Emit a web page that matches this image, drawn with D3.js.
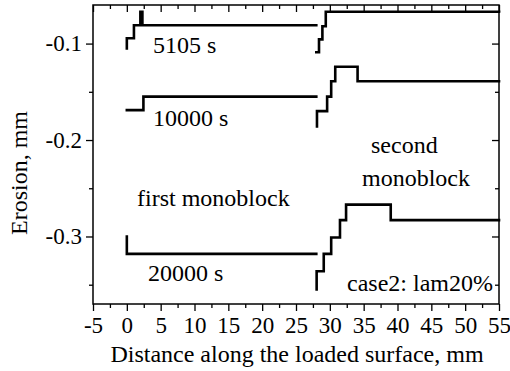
<!DOCTYPE html>
<html>
<head>
<meta charset="utf-8">
<script src="https://cdn.jsdelivr.net/npm/d3@7"></script>
<style>
  html, body { margin: 0; padding: 0; background: #fff; }
  svg { display: block; }
  svg text { font-family: 'Liberation Serif', 'DejaVu Serif', serif; fill: #000; }
</style>
</head>
<body>
<svg id="chart" width="510" height="371"></svg>
<script>
// Axis ranges and ticks
const xDomain = [-5, 55];
const yDomain = [-0.37, -0.06];
const xMajorTicks = [-5, 0, 5, 10, 15, 20, 25, 30, 35, 40, 45, 50, 55];
const xMinorTicks = [-2.5, 2.5, 7.5, 12.5, 17.5, 22.5, 27.5, 32.5, 37.5, 42.5, 47.5, 52.5];
const yMajorTicks = [-0.1, -0.2, -0.3];
const yMinorTicks = [-0.15, -0.25, -0.35];

// Erosion profiles (mm) along the loaded surface, one path per monoblock
const x5105First  = [0, 0, 1.05, 2.0, 2.3, 28];
const y5105First  = [-0.105, -0.0945, -0.081, -0.067, -0.081, -0.081];
const x5105Second = [28, 28.4, 28.9, 29.4, 55];
const y5105Second = [-0.109, -0.0956, -0.082, -0.067, -0.067];

const x10000First  = [0, 2.45, 28];
const y10000First  = [-0.169, -0.155, -0.155];
const x10000Second = [28.1, 28.1, 29.6, 30.2, 30.8, 34.1, 55];
const y10000Second = [-0.186, -0.170, -0.155, -0.139, -0.124, -0.139, -0.139];

const x20000First  = [0, 0, 28];
const y20000First  = [-0.300, -0.318, -0.318];
const x20000Second = [28.05, 28.05, 29.1, 30.2, 31.5, 32.4, 39, 55];
const y20000Second = [-0.355, -0.336, -0.318, -0.301, -0.283, -0.267, -0.283, -0.283];

const profiles = [
  [x5105First, y5105First], [x5105Second, y5105Second],
  [x10000First, y10000First], [x10000Second, y10000Second],
  [x20000First, y20000First], [x20000Second, y20000Second]
];

const svg = d3.select("#chart");
const plotLeft = 93, plotRight = 499, plotTop = 5, plotBottom = 304;
const serif = "'Liberation Serif', 'DejaVu Serif', serif";

const x = d3.scaleLinear().domain(xDomain).range([plotLeft, plotRight]);
const y = d3.scaleLinear().domain(yDomain).range([plotBottom, plotTop]);

// Profiles
const line = d3.line()
  .x(d => x(d[0]))
  .y(d => y(d[1]))
  .curve(d3.curveStepAfter);

profiles.forEach(([xs, ys]) => {
  svg.append("path")
    .datum(xs.map((v, i) => [v, ys[i]]))
    .attr("fill", "none")
    .attr("stroke", "#000")
    .attr("stroke-width", 2.6)
    .attr("stroke-linejoin", "miter")
    .attr("stroke-linecap", "square")
    .attr("d", line);
});

// Axes: bottom/left ticks point out, top/right mirrored ticks point in
const fmtY = d => d3.format(".1f")(d).replace("\u2212", "-");
const axisBottom = d3.axisBottom(x).tickValues(xMajorTicks).tickSize(7).tickPadding(6).tickFormat(d => String(d));
const axisBottomMinor = d3.axisBottom(x).tickValues(xMinorTicks).tickSize(4).tickFormat("");
const axisTop = d3.axisBottom(x).tickValues(xMajorTicks).tickSize(7).tickFormat("");
const axisTopMinor = d3.axisBottom(x).tickValues(xMinorTicks).tickSize(4).tickFormat("");
const axisLeft = d3.axisLeft(y).tickValues(yMajorTicks).tickSize(7).tickPadding(4).tickFormat(fmtY);
const axisLeftMinor = d3.axisLeft(y).tickValues(yMinorTicks).tickSize(4).tickFormat("");
const axisRight = d3.axisLeft(y).tickValues(yMajorTicks).tickSize(7).tickFormat("");
const axisRightMinor = d3.axisLeft(y).tickValues(yMinorTicks).tickSize(4).tickFormat("");

function place(axis, tx, ty) {
  const g = svg.append("g").attr("transform", `translate(${tx},${ty})`).call(axis)
    .attr("font-family", serif).attr("font-size", 23);
  g.select(".domain").remove();
  g.selectAll(".tick line").attr("stroke", "#000").attr("stroke-width", 1.3);
  g.selectAll(".tick text").attr("fill", "#000");
  return g;
}
place(axisBottom, 0, plotBottom);
place(axisBottomMinor, 0, plotBottom);
place(axisTop, 0, plotTop);
place(axisTopMinor, 0, plotTop);
place(axisLeft, plotLeft, 0);
place(axisLeftMinor, plotLeft, 0);
place(axisRight, plotRight, 0);
place(axisRightMinor, plotRight, 0);

// Frame
svg.append("rect")
  .attr("x", plotLeft).attr("y", plotTop)
  .attr("width", plotRight - plotLeft).attr("height", plotBottom - plotTop)
  .attr("fill", "none").attr("stroke", "#000").attr("stroke-width", 1.5);

// Axis titles
svg.append("text")
  .attr("x", 297).attr("y", 362)
  .attr("text-anchor", "middle").attr("font-size", 24)
  .text("Distance along the loaded surface, mm");
svg.append("text")
  .attr("transform", "translate(27,173) rotate(-90)")
  .attr("text-anchor", "middle").attr("font-size", 24)
  .text("Erosion, mm");

// Annotations
const notes = [
  { t: "5105 s", x: 153, y: 53 },
  { t: "10000 s", x: 153, y: 126 },
  { t: "first monoblock", x: 137, y: 206 },
  { t: "second", x: 371, y: 153 },
  { t: "monoblock", x: 362, y: 186 },
  { t: "20000 s", x: 148, y: 281 },
  { t: "case2: lam20%", x: 347, y: 291 }
];
svg.selectAll("text.note").data(notes).join("text")
  .attr("class", "note")
  .attr("x", d => d.x).attr("y", d => d.y)
  .attr("font-size", 24)
  .text(d => d.t);
</script>
</body>
</html>
